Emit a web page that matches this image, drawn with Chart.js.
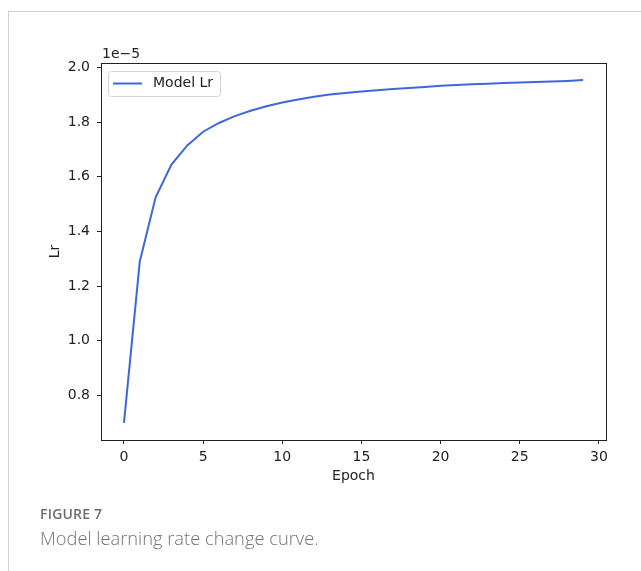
<!DOCTYPE html>
<html>
<head>
<meta charset="utf-8">
<script src="https://cdn.jsdelivr.net/npm/chart.js@4.4.1/dist/chart.umd.min.js"></script>
<style>
  html, body { margin: 0; padding: 0; background: #fff; }
  body { width: 641px; height: 571px; position: relative; overflow: hidden; }
  #frame {
    position: absolute; left: 8px; top: 11px; width: 700px; height: 600px;
    border-top: 1px solid #d0d0d0; border-left: 1px solid #d0d0d0;
  }
  #wrap { position: absolute; left: 0; top: 0; width: 641px; height: 571px; }
  .fig-no {
    position: absolute; left: 40px; top: 504px;
    font: 600 14px "Open Sans", sans-serif; color: #6e6e6e; letter-spacing: 0.2px;
  }
  .fig-cap {
    position: absolute; left: 40px; top: 525px;
    font: 300 18.3px "Open Sans", sans-serif; color: #737373;
  }
</style>
</head>
<body>
<div id="frame"></div>
<div id="wrap"><canvas id="lrChart"></canvas></div>
<div class="fig-no">FIGURE 7</div>
<div class="fig-cap">Model learning rate change curve.</div>

<script>
// values, y in units of 1e-5
const epochs = [0, 1, 2, 3, 4, 5, 6, 7, 8, 9, 10, 11, 12, 13, 14, 15, 16, 17, 18, 19,
  20, 21, 22, 23, 24, 25, 26, 27, 28, 29];
const lrValues = [0.700, 1.290, 1.525, 1.645, 1.715, 1.765, 1.797, 1.822, 1.842, 1.858,
  1.872, 1.883, 1.893, 1.901, 1.907, 1.912, 1.917, 1.921, 1.925, 1.929,
  1.933, 1.936, 1.939, 1.941, 1.943, 1.945, 1.947, 1.949, 1.951, 1.954];
const xTicks = [0, 5, 10, 15, 20, 25, 30];
const yTicks = [0.8, 1.0, 1.2, 1.4, 1.6, 1.8, 2.0];
const seriesLabel = "Model Lr";
const offsetText = "1e\u22125";

const FONT = "DejaVu Sans";
const INK = "#222";

// axes box, "1e-5" offset label and the boxed legend
const framePlugin = {
  id: "framePlugin",
  afterDraw(chart) {
    const { ctx, chartArea: a } = chart;
    ctx.save();
    ctx.strokeStyle = INK;
    ctx.lineWidth = 1;
    ctx.strokeRect(Math.round(a.left) + 0.5, Math.round(a.top) + 0.5,
      Math.round(a.right - a.left), Math.round(a.bottom - a.top));

    ctx.fillStyle = INK;
    ctx.font = `14px "${FONT}"`;
    ctx.textAlign = "left";
    ctx.textBaseline = "middle";
    ctx.fillText(offsetText, a.left + 1, a.top - 9);

    // legend
    const ds = chart.data.datasets[0];
    const bx = a.left + 7, by = a.top + 8, bw = 112, bh = 25;
    ctx.beginPath();
    ctx.roundRect(bx + 0.5, by + 0.5, bw, bh, 3);
    ctx.fillStyle = "rgba(255,255,255,0.8)";
    ctx.fill();
    ctx.strokeStyle = "#d4d4d4";
    ctx.stroke();
    const ly = by + bh / 2;
    ctx.beginPath();
    ctx.moveTo(bx + 5, ly);
    ctx.lineTo(bx + 34, ly);
    ctx.strokeStyle = ds.borderColor;
    ctx.lineWidth = ds.borderWidth;
    ctx.stroke();
    ctx.fillStyle = INK;
    ctx.fillText(ds.label, bx + 45, ly);
    ctx.restore();
  }
};

new Chart(document.getElementById("lrChart"), {
  type: "line",
  data: {
    datasets: [{
      label: seriesLabel,
      data: epochs.map((e, i) => ({ x: e, y: lrValues[i] })),
      borderColor: "#3f67dc",
      borderWidth: 2,
      pointRadius: 0,
      tension: 0,
      fill: false
    }]
  },
  options: {
    responsive: true,
    maintainAspectRatio: false,
    animation: false,
    layout: { padding: { left: 40, top: 63, right: 35, bottom: 81 } },
    scales: {
      x: {
        type: "linear",
        min: -1.45,
        max: 30.45,
        afterBuildTicks: s => { s.ticks = xTicks.map(v => ({ value: v })); },
        afterFit: s => { s.height = 50; },
        border: { display: false },
        grid: { drawOnChartArea: false, drawTicks: true, tickLength: 4, color: INK },
        ticks: {
          color: INK, padding: 5, maxRotation: 0, autoSkip: false,
          font: { family: FONT, size: 14 },
          callback: v => String(v)
        },
        title: {
          display: true, text: "Epoch", color: INK,
          font: { family: FONT, size: 14 }, padding: { top: 0, bottom: 5 }
        }
      },
      y: {
        type: "linear",
        min: 0.637,
        max: 2.0165,
        afterBuildTicks: s => { s.ticks = yTicks.map(v => ({ value: v })); },
        afterFit: s => { s.width = 61; },
        border: { display: false },
        grid: { drawOnChartArea: false, drawTicks: true, tickLength: 4, color: INK },
        ticks: {
          color: INK, padding: 7, autoSkip: false,
          font: { family: FONT, size: 14 },
          callback: v => v.toFixed(1)
        },
        title: {
          display: true, text: "Lr", color: INK,
          font: { family: FONT, size: 14 }, padding: { top: 7, bottom: 0 }
        }
      }
    },
    plugins: {
      legend: { display: false },
      tooltip: { enabled: false }
    }
  },
  plugins: [framePlugin]
});
</script>
</body>
</html>
